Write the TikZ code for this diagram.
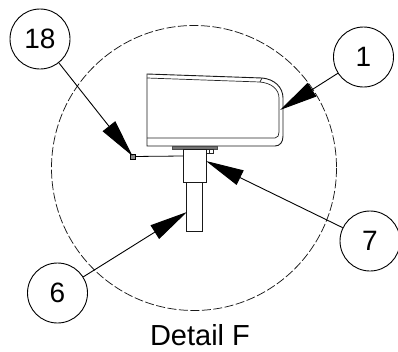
\documentclass[tikz,border=0pt]{standalone}
\usepackage{fontspec}
\setmainfont{Liberation Sans}
\usetikzlibrary{arrows.meta}
\tikzset{
  callout/.style={circle,draw=black,line width=0.9pt,minimum size=60pt,inner sep=0pt,font=\fontsize{28}{30}\selectfont,fill=white},
  leader/.style={draw=black,line width=0.9pt,-{Triangle[length=38pt,width=16pt,fill=black]}},
  part/.style={draw=black!90,line width=0.9pt},
  thin part/.style={draw=black!85,line width=0.7pt}
}
\begin{document}
\begin{tikzpicture}[x=1pt,y=-1pt]
\useasboundingbox (0,0) rectangle (398,351);
\draw[black!90,line width=0.75pt,dash pattern=on 9pt off 2.5pt] (194,168) circle (142.5);
% housing
\draw[part] (147,74) -- (262,78) .. controls (274,79) and (283,87) .. (283,98) -- (283,136) .. controls (283,142) and (280,146) .. (275,146) -- (147,146) -- cycle;
\draw[thin part] (147,78) -- (260,82) -- (262,78);
\draw[thin part] (260,82) .. controls (271,83) and (279,89) .. (279,98) -- (279,132) .. controls (279,135) and (278,138) .. (275,138) -- (147,138);
% mount
\draw[black!70,fill=black!55,line width=0.5pt] (172,146) rectangle (217,149);
\draw[thin part] (205,149) rectangle (213,153);
\draw[thin part] (209,149) -- (209,153);
\draw[part,fill=white] (186,182) rectangle (202,231);
\draw[part,fill=white] (183,149) rectangle (206,182);
% small fitting
\node[draw=black,line width=0.9pt,fill=black!45,minimum size=5pt,inner sep=0pt] (fit) at (133,156.5) {};
\coordinate (col) at (183,156);
\draw[black,line width=0.8pt] (fit) -- (col);
% callouts
\node[callout] (c18) at (40,39) {18};
\node[callout] (c1) at (363.5,57) {1};
\node[callout] (c7) at (370,241) {7};
\node[callout] (c6) at (57.5,293) {6};
\coordinate (t18) at (132.5,156);
\coordinate (t1) at (280,110);
\coordinate (t7) at (206,161);
\coordinate (t6) at (187,212);
\draw[leader] (c18) -- (t18);
\draw[leader] (c1) -- (t1);
\draw[leader] (c7) -- (t7);
\draw[leader] (c6) -- (t6);
\node[font=\fontsize{29}{32}\selectfont,anchor=base,inner sep=0pt] (cap) at (200,345) {Detail F};
\end{tikzpicture}
\end{document}
